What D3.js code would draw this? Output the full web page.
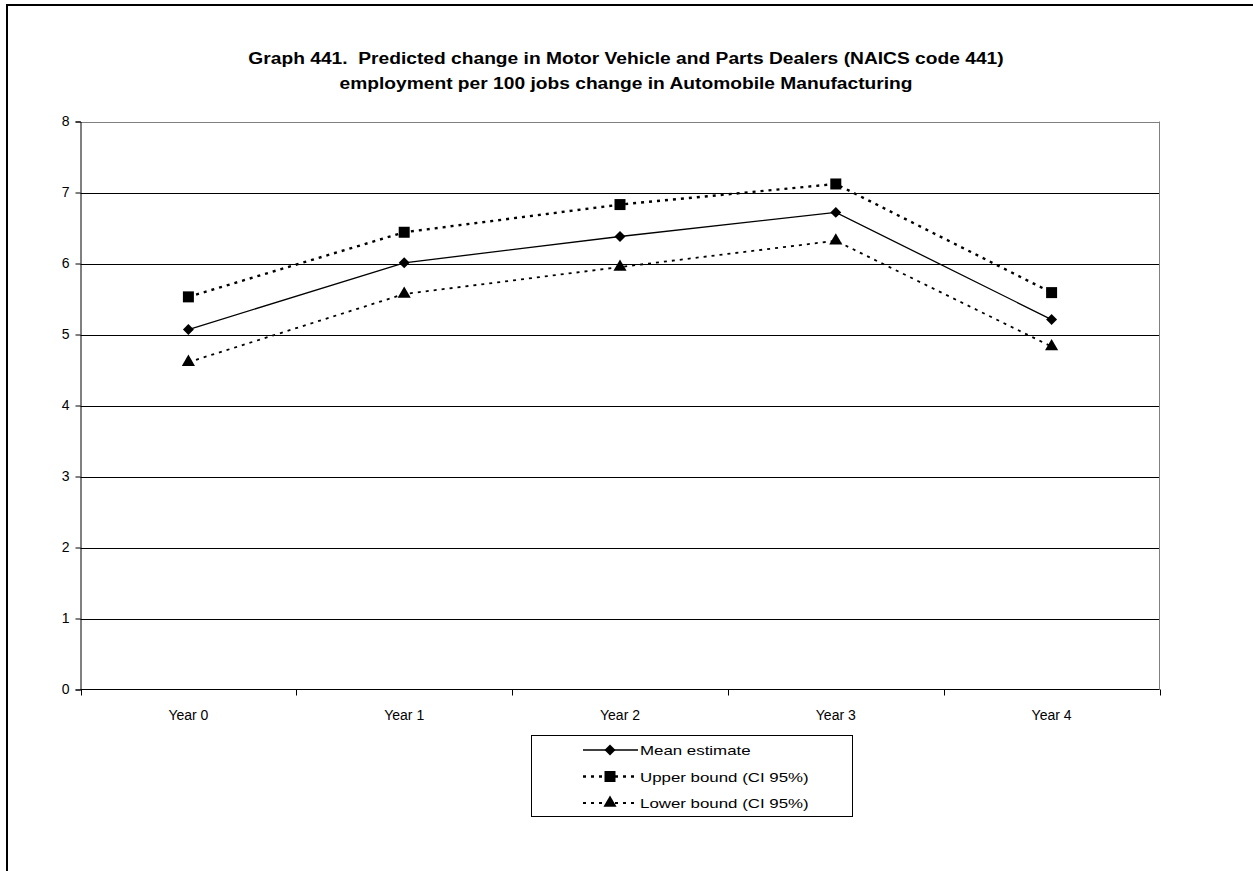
<!DOCTYPE html>
<html>
<head>
<meta charset="utf-8">
<script src="https://cdn.jsdelivr.net/npm/d3@7"></script>
<style>
  html, body { margin: 0; padding: 0; background: #fff; overflow: hidden; }
  svg { display: block; }
  text { font-family: "Liberation Sans", Arial, sans-serif; fill: #000; white-space: pre; }
</style>
</head>
<body>
<svg id="chart" width="1253" height="871"></svg>
<script>
// Chart data
const categories = ["Year 0", "Year 1", "Year 2", "Year 3", "Year 4"];
const meanEstimate = [5.07, 6.01, 6.38, 6.72, 5.21];
const upperBound = [5.53, 6.44, 6.83, 7.12, 5.59];
const lowerBound = [4.61, 5.57, 5.95, 6.32, 4.83];
const yTicks = [0, 1, 2, 3, 4, 5, 6, 7, 8];
const titleLines = [
  "Graph 441.  Predicted change in Motor Vehicle and Parts Dealers (NAICS code 441)",
  "employment per 100 jobs change in Automobile Manufacturing"
];
const seriesNames = ["Mean estimate", "Upper bound (CI 95%)", "Lower bound (CI 95%)"];

const svg = d3.select("#chart");

// Outer chart frame: left and top edges (the rest runs off the page)
svg.append("path")
  .attr("d", "M7,871V5H1253")
  .attr("fill", "none").attr("stroke", "#000").attr("stroke-width", 2);

// Title, slightly widened like the original export
svg.append("g").selectAll("text").data(titleLines).join("text")
  .attr("transform", (d, i) => `translate(626,${64 + i * 25}) scale(1.13,1)`)
  .attr("text-anchor", "middle")
  .style("font-size", "17px").style("font-weight", "bold")
  .text(d => d);

const plot = { left: 80.5, right: 1159.5, top: 121.5, bottom: 689.5 };

const x = d3.scaleBand().domain(categories).range([plot.left, plot.right]).padding(0);
const y = d3.scaleLinear().domain([0, 8]).range([plot.bottom, plot.top]);

// Horizontal gridlines
svg.append("g").selectAll("line").data(yTicks.filter(t => t > 0)).join("line")
  .attr("x1", plot.left).attr("x2", plot.right)
  .attr("y1", d => Math.round(y(d)) + 0.5).attr("y2", d => Math.round(y(d)) + 0.5)
  .attr("stroke", d => d === 8 ? "#808080" : "#000").attr("stroke-width", 1);

// Right edge of the plot area
svg.append("line")
  .attr("x1", plot.right).attr("x2", plot.right)
  .attr("y1", plot.top).attr("y2", plot.bottom)
  .attr("stroke", "#808080");

// Y axis
const yAxis = d3.axisLeft(y).tickValues(yTicks).tickSize(5).tickPadding(6).tickFormat(d3.format("d"));
const gy = svg.append("g").attr("transform", `translate(${plot.left},0)`).call(yAxis);
gy.select(".domain").attr("stroke", "#000");
gy.selectAll(".tick line").attr("stroke", "#000");
gy.selectAll(".tick text").style("font-size", "14px").style("font-family", "Liberation Sans, Arial, sans-serif");

// X axis: ticks on category boundaries, labels centred in each band
const gx = svg.append("g").attr("transform", `translate(0,${plot.bottom})`);
gx.append("line").attr("x1", plot.left).attr("x2", plot.right)
  .attr("stroke", "#000");
const boundaries = categories.map(c => x(c)).concat([x(categories[categories.length - 1]) + x.bandwidth()]);
gx.selectAll(".btick").data(boundaries).join("line")
  .attr("class", "btick")
  .attr("x1", d => Math.round(d) + 0.5).attr("x2", d => Math.round(d) + 0.5)
  .attr("y1", 0).attr("y2", 6).attr("stroke", "#000");
gx.selectAll(".lab").data(categories).join("text")
  .attr("class", "lab")
  .attr("x", d => x(d) + x.bandwidth() / 2).attr("y", 30)
  .attr("text-anchor", "middle").style("font-size", "14px")
  .text(d => d);

const cx = d => x(d) + x.bandwidth() / 2;

// Diamond drawn as a square turned 45 degrees
const diamond = {
  draw(ctx, size) {
    const r = Math.sqrt(size / 2);
    ctx.moveTo(0, -r); ctx.lineTo(r, 0); ctx.lineTo(0, r); ctx.lineTo(-r, 0); ctx.closePath();
  }
};

const series = [
  { name: seriesNames[0], values: meanEstimate, dash: null, width: 1.3, marker: diamond, size: 60 },
  { name: seriesNames[1], values: upperBound, dash: "3,5", width: 2.4, marker: d3.symbolSquare, size: 121 },
  { name: seriesNames[2], values: lowerBound, dash: "3,5", width: 1.8, marker: d3.symbolTriangle, size: 75 }
];

const line = d3.line().x(d => cx(d.cat)).y(d => y(d.v));

series.forEach(s => {
  const pts = categories.map((c, i) => ({ cat: c, v: s.values[i] }));
  svg.append("path")
    .datum(pts)
    .attr("d", line)
    .attr("fill", "none")
    .attr("stroke", "#000")
    .attr("stroke-width", s.width)
    .attr("stroke-dasharray", s.dash);
  svg.append("g").selectAll("path").data(pts).join("path")
    .attr("transform", d => `translate(${cx(d.cat)},${y(d.v)})`)
    .attr("d", d3.symbol().type(s.marker).size(s.size))
    .attr("fill", "#000");
});

// Legend
const legend = svg.append("g");
legend.append("rect")
  .attr("x", 531.5).attr("y", 735.5).attr("width", 321).attr("height", 81)
  .attr("fill", "#fff").attr("stroke", "#000");
series.forEach((s, i) => {
  const ly = 750 + i * 26.5;
  legend.append("line")
    .attr("x1", 583).attr("x2", 638).attr("y1", ly).attr("y2", ly)
    .attr("stroke", "#000").attr("stroke-width", s.width)
    .attr("stroke-dasharray", s.dash);
  legend.append("path")
    .attr("transform", `translate(610,${ly})`)
    .attr("d", d3.symbol().type(s.marker).size(s.size))
    .attr("fill", "#000");
  legend.append("text")
    .attr("transform", `translate(640,${ly + 5}) scale(1.25,1)`)
    .style("font-size", "13.5px")
    .text(s.name);
});
</script>
</body>
</html>
